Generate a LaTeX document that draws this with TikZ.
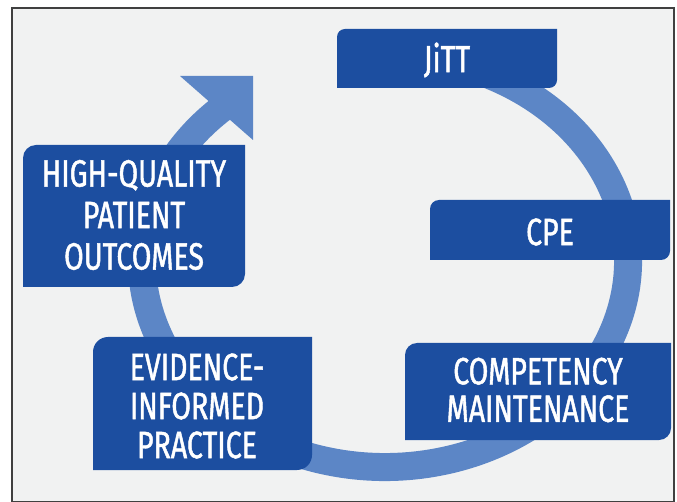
\documentclass[tikz,border=0pt]{standalone}
\usepackage{fontspec}
\newfontfamily\boxfont[FakeStretch=0.75,FakeBold=1.2]{Fira Sans}
\definecolor{boxblue}{RGB}{28,78,160}
\definecolor{ringblue}{RGB}{92,134,198}
\definecolor{bggray}{RGB}{241,242,242}
\newcommand\leafshape[5]{% x1,y1,x2,y2,r  (screen pixels, y downwards)
  \fill[boxblue] (#1,-#4) -- (#1,-#2-#5) arc[start angle=180,end angle=90,radius=#5]
    -- (#3,-#2) -- (#3,-#4+#5) arc[start angle=0,end angle=-90,radius=#5] -- cycle;}
\begin{document}
\begin{tikzpicture}[x=1pt,y=1pt,
  lbl/.style={text=white, align=center, inner sep=0pt,
    font=\boxfont\fontsize{38}{40}\selectfont},
  ring/.style={draw=ringblue, line width=28pt},
  tip/.style={fill=ringblue}]
\useasboundingbox (0,0) rectangle (677,-502);
\fill[white] (0,0) rectangle (677,-502);
\filldraw[fill=bggray, draw=black!75, line width=1.5pt] (12,-8) rectangle (674,-501.5);
% cycle ring
\coordinate (c) at (385,-261);
\draw[ring] (c) ++(70:243 and 206) coordinate (ringstart)
  arc[start angle=70, end angle=-230, x radius=243, y radius=206] coordinate (ringend);
\fill[tip] (180,-76) -- (253,-76) -- (253,-140) -- cycle;
% boxes
\leafshape{337}{29}{557}{88}{8}
\node[lbl] (jitt) at (447,-60) {JiTT};
\leafshape{430}{200}{670}{260}{9}
\node[lbl] (cpe) at (550,-232) {CPE};
\leafshape{23}{145}{245}{287}{13}
\node[lbl, font=\boxfont\fontsize{38}{41.5}\selectfont] (hq) at (134,-215) {HIGH-QUALITY\\PATIENT\\OUTCOMES};
\leafshape{93}{337}{312}{470}{15}
\node[lbl, font=\boxfont\fontsize{38}{39}\selectfont] (eip) at (197,-406) {EVIDENCE-\\INFORMED\\PRACTICE};
\leafshape{405}{343}{671}{440}{12}
\node[lbl, font=\boxfont\fontsize{38}{37.5}\selectfont] (cm) at (538,-390) {COMPETENCY\\MAINTENANCE};
\end{tikzpicture}
\end{document}
